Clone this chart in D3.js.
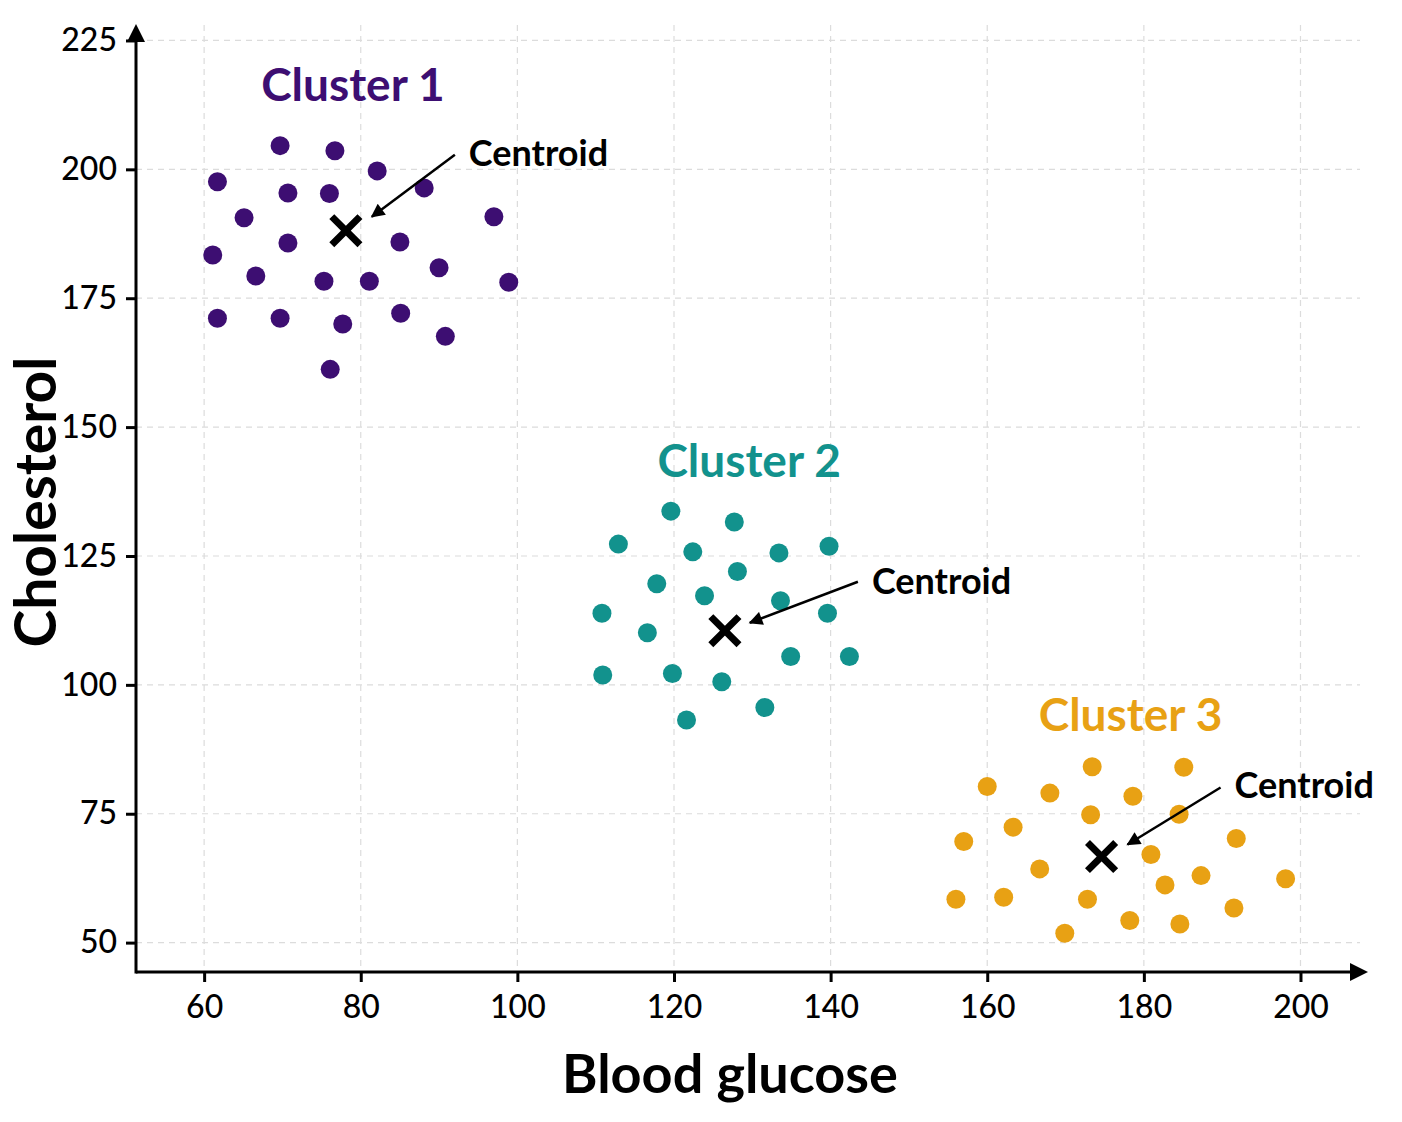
<!DOCTYPE html>
<html>
<head>
<meta charset="utf-8">
<script src="https://cdn.jsdelivr.net/npm/d3@7"></script>
<style>
  body { margin: 0; background: #fff; }
  text { font-family: Lato, "Open Sans", sans-serif; }
</style>
</head>
<body>
<div id="chart"></div>
<script>
// Dades del gràfic (llegides de la imatge)
const clusterNames = ['Cluster 1', 'Cluster 2', 'Cluster 3'];

const cluster1Glucose = [69.7, 76.7, 82.1, 61.7, 70.7, 76.0, 88.1, 65.1, 97.0, 70.7, 85.0, 61.1,
    66.6, 75.3, 81.1, 90.0, 98.9, 61.7, 69.7, 77.7, 85.1, 90.8, 76.1];
const cluster1Chol = [204.6, 203.6, 199.7, 197.6, 195.4, 195.3, 196.4, 190.6, 190.8, 185.7, 185.9, 183.4,
    179.3, 178.3, 178.3, 180.9, 178.1, 171.1, 171.1, 170.0, 172.1, 167.6, 161.2];

const cluster2Glucose = [119.6, 127.7, 112.9, 122.4, 133.4, 139.8, 128.1, 117.8, 123.9, 133.6,
    110.8, 139.6, 116.6, 134.9, 142.4, 110.9, 119.8, 126.1, 131.6, 121.6];
const cluster2Chol = [133.7, 131.6, 127.3, 125.8, 125.6, 126.9, 122.0, 119.6, 117.3, 116.3,
    113.9, 113.9, 110.1, 105.5, 105.5, 101.9, 102.2, 100.6, 95.6, 93.2];

const cluster3Glucose = [173.4, 185.1, 160.0, 168.0, 178.6, 173.2, 184.5, 163.3, 157.0, 191.8, 180.9,
    166.7, 187.3, 198.1, 182.7, 156.0, 162.1, 172.8, 191.5, 178.2, 184.6, 169.9];
const cluster3Chol = [84.1, 84.0, 80.3, 79.0, 78.4, 74.8, 74.9, 72.4, 69.6, 70.2, 67.1,
    64.3, 63.0, 62.4, 61.2, 58.4, 58.8, 58.4, 56.7, 54.3, 53.6, 51.8];

const centroidGlucose = [78.1, 126.5, 174.6];
const centroidChol = [188.1, 110.5, 66.7];

const xTicks = [60, 80, 100, 120, 140, 160, 180, 200];
const yTicks = [50, 75, 100, 125, 150, 175, 200, 225];

// Estils i posicions de les etiquetes
const colors = ['#3d0e72', '#12928d', '#e8a114'];
const titlePos = [{ x: 79.0, y: 213.3 }, { x: 129.6, y: 140.4 }, { x: 178.3, y: 91.1 }];
const arrowLayout = [
    { sx: 109, sy: -76, ex: 26, ey: -14, tx: 123, ty: -65 },
    { sx: 133, sy: -49, ex: 25, ey: -8, tx: 147, ty: -37 },
    { sx: 119, sy: -69, ex: 26, ey: -12, tx: 133, ty: -59 }
];

const W = 1402, H = 1122;
const mLeft = 136, mRight = 1360, mTop = 25, mBottom = 972;

const svg = d3.select('#chart').append('svg')
    .attr('width', W)
    .attr('height', H);

const x = d3.scaleLinear().domain([51.3, 207.6]).range([mLeft, mRight]);
const y = d3.scaleLinear().domain([44.3, 228]).range([mBottom, mTop]);

// Graella puntejada
svg.append('g').selectAll('line')
    .data(yTicks)
    .enter().append('line')
    .attr('x1', mLeft).attr('x2', mRight)
    .attr('y1', d => y(d)).attr('y2', d => y(d))
    .attr('stroke', '#dcdcdc').attr('stroke-width', 1.2)
    .attr('stroke-dasharray', '6,5');

svg.append('g').selectAll('line')
    .data(xTicks)
    .enter().append('line')
    .attr('x1', d => x(d)).attr('x2', d => x(d))
    .attr('y1', mTop).attr('y2', mBottom)
    .attr('stroke', '#dcdcdc').attr('stroke-width', 1.2)
    .attr('stroke-dasharray', '6,5');

// Eixos
const xAxis = svg.append('g')
    .attr('transform', `translate(0,${mBottom})`)
    .call(d3.axisBottom(x).tickValues(xTicks).tickSize(10).tickPadding(13));

const yAxis = svg.append('g')
    .attr('transform', `translate(${mLeft},0)`)
    .call(d3.axisLeft(y).tickValues(yTicks).tickSize(10).tickPadding(9));

[xAxis, yAxis].forEach(ax => {
    ax.select('.domain').remove();
    ax.selectAll('.tick line').attr('stroke', '#000').attr('stroke-width', 3);
    ax.selectAll('.tick text')
        .attr('fill', '#000')
        .style('font-size', '32px')
        .style('font-weight', 500)
        .style('font-family', 'Lato, sans-serif');
});

svg.append('line')
    .attr('x1', mLeft).attr('x2', mRight)
    .attr('y1', mBottom).attr('y2', mBottom)
    .attr('stroke', '#000').attr('stroke-width', 3);
svg.append('line')
    .attr('x1', mLeft).attr('x2', mLeft)
    .attr('y1', mBottom + 1.5).attr('y2', mTop + 10)
    .attr('stroke', '#000').attr('stroke-width', 3);

svg.append('path')
    .attr('d', `M${mRight + 8},${mBottom} L${mRight - 10},${mBottom - 9} L${mRight - 10},${mBottom + 9} Z`)
    .attr('fill', '#000');
svg.append('path')
    .attr('d', `M${mLeft},${mTop - 1} L${mLeft - 9},${mTop + 17} L${mLeft + 9},${mTop + 17} Z`)
    .attr('fill', '#000');

// Títols dels eixos
svg.append('text')
    .attr('x', 730)
    .attr('y', 1093)
    .attr('text-anchor', 'middle')
    .style('font-size', '54px')
    .style('font-weight', 'bold')
    .text('Blood glucose');

svg.append('text')
    .attr('transform', 'translate(56,502) rotate(-90)')
    .attr('text-anchor', 'middle')
    .style('font-size', '57px')
    .style('font-weight', 'bold')
    .text('Cholesterol');

// Punts de cada grup
const clusters = [
    { g: cluster1Glucose, c: cluster1Chol },
    { g: cluster2Glucose, c: cluster2Chol },
    { g: cluster3Glucose, c: cluster3Chol }
];

clusters.forEach((cl, i) => {
    const pts = cl.g.map((v, j) => ({ gl: v, ch: cl.c[j] }));
    svg.append('g').selectAll('circle')
        .data(pts)
        .enter().append('circle')
        .attr('cx', d => x(d.gl))
        .attr('cy', d => y(d.ch))
        .attr('r', 9.5)
        .attr('fill', colors[i]);

    svg.append('text')
        .attr('x', x(titlePos[i].x))
        .attr('y', y(titlePos[i].y))
        .attr('text-anchor', 'middle')
        .attr('fill', colors[i])
        .style('font-size', '46px')
        .style('font-weight', 'bold')
        .text(clusterNames[i]);
});

// Marcador de punta de fletxa
svg.append('defs').append('marker')
    .attr('id', 'arrow')
    .attr('viewBox', '0 0 10 10')
    .attr('refX', 9).attr('refY', 5)
    .attr('markerWidth', 6.5).attr('markerHeight', 5.5)
    .attr('markerUnits', 'strokeWidth')
    .attr('orient', 'auto')
    .append('path')
    .attr('d', 'M0,0 L10,5 L0,10 Z')
    .attr('fill', '#000');

// Centroides
const symX = d3.symbol().type(d3.symbolX).size(520);

centroidGlucose.forEach((cg, i) => {
    const cx = x(cg), cy = y(centroidChol[i]);
    const a = arrowLayout[i];

    svg.append('path')
        .attr('transform', `translate(${cx},${cy})`)
        .attr('d', symX())
        .attr('fill', 'none')
        .attr('stroke', '#000')
        .attr('stroke-width', 7);

    svg.append('line')
        .attr('x1', cx + a.sx).attr('y1', cy + a.sy)
        .attr('x2', cx + a.ex).attr('y2', cy + a.ey)
        .attr('stroke', '#000')
        .attr('stroke-width', 2.5)
        .attr('marker-end', 'url(#arrow)');

    svg.append('text')
        .attr('x', cx + a.tx)
        .attr('y', cy + a.ty)
        .style('font-size', '36px')
        .style('font-weight', 'bold')
        .text('Centroid');
});
</script>
</body>
</html>
